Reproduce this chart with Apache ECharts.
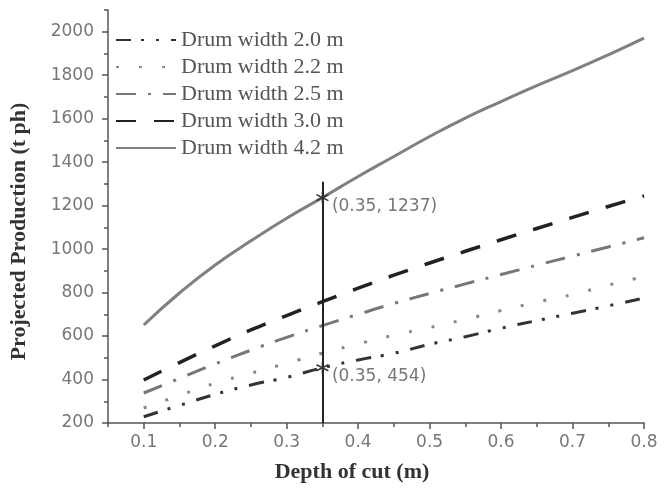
<!DOCTYPE html>
<html>
<head>
<meta charset="utf-8">
<script src="https://cdn.jsdelivr.net/npm/echarts@6/dist/echarts.min.js"></script>
<style>
  html, body { margin: 0; padding: 0; background: #fff; }
  #chart { width: 666px; height: 491px; }
</style>
</head>
<body>
<div id="chart"></div>
<script>
// depth of cut (m), sampled every 0.05
const depth = [0.1, 0.15, 0.2, 0.25, 0.3, 0.35, 0.4, 0.45, 0.5, 0.55, 0.6, 0.65, 0.7, 0.75, 0.8];

// projected production (t/h) per drum width
const width20 = [229, 281, 332, 375, 410, 454, 490, 521, 562, 597, 636, 671, 705, 739, 775];
const width22 = [269, 327, 383, 429, 475, 521, 564, 604, 639, 677, 717, 756, 791, 834, 874];
const width25 = [338, 405, 472, 535, 594, 648, 700, 750, 796, 840, 883, 926, 968, 1010, 1052];
const width30 = [398, 478, 555, 628, 694, 758, 820, 880, 936, 990, 1043, 1095, 1146, 1196, 1245];
const width42 = [651, 798, 927, 1038, 1142, 1237, 1334, 1426, 1518, 1603, 1679, 1752, 1821, 1894, 1971];

const seriesNames = ["Drum width 2.0 m", "Drum width 2.2 m", "Drum width 2.5 m", "Drum width 3.0 m", "Drum width 4.2 m"];

const xMajorTicks = [0.1, 0.2, 0.3, 0.4, 0.5, 0.6, 0.7, 0.8];
const xMinorTicks = [0.05, 0.15, 0.25, 0.35, 0.45, 0.55, 0.65, 0.75];
const yMajorTicks = [200, 400, 600, 800, 1000, 1200, 1400, 1600, 1800, 2000];
const yMinorTicks = [300, 500, 700, 900, 1100, 1300, 1500, 1700, 1900, 2100];

// marked operating point and the guide line through it
const markDepth = 0.35;
const markHigh = 1237;
const markLow = 454;
const guideTop = 1310;

const pairs = (vals) => depth.map((d, i) => [d, vals[i]]);

const STAR = "path://M0,-10L0,10M-8.7,-5L8.7,5M-8.7,5L8.7,-5";
const AXIS_COLOR = "#555";
const TICK_FONT = { color: "#777", fontSize: 17, fontFamily: "DejaVu Sans" };
const NAME_FONT = { color: "#333", fontSize: 22, fontWeight: "bold", fontFamily: "Liberation Serif" };

function starPoint(value) {
  return {
    coord: [markDepth, value],
    symbol: STAR,
    symbolSize: 12,
    itemStyle: { color: "none", borderColor: "#333", borderWidth: 1.5 },
    label: {
      show: true,
      position: "right",
      offset: [-4, 9],
      formatter: `(${markDepth}, ${value})`,
      color: "#777",
      fontSize: 17,
      fontFamily: "DejaVu Sans",
    },
  };
}

const chart = echarts.init(document.getElementById("chart"));

chart.setOption({
  animation: false,
  backgroundColor: "#fff",
  grid: { left: 105, right: 22, top: 10, bottom: 68 },
  legend: {
    data: seriesNames,
    orient: "vertical",
    left: 110,
    top: 24,
    itemWidth: 60,
    itemHeight: 14,
    itemGap: 5,
    itemStyle: { opacity: 0 },
    textStyle: { color: "#555", fontSize: 22, fontFamily: "Liberation Serif" },
  },
  xAxis: [
    {
      type: "value",
      min: 0.05,
      max: 0.8,
      name: "Depth of cut (m)",
      nameLocation: "middle",
      nameGap: 38,
      nameTextStyle: { ...NAME_FONT, padding: [0, 48, 0, 0] },
      axisLine: { lineStyle: { color: AXIS_COLOR, width: 1.5 } },
      axisTick: { customValues: xMajorTicks, length: 6, lineStyle: { color: AXIS_COLOR, width: 1.5 } },
      axisLabel: { customValues: xMajorTicks, margin: 11, ...TICK_FONT },
      splitLine: { show: false },
    },
    {
      type: "value",
      min: 0.05,
      max: 0.8,
      position: "bottom",
      axisLine: { show: false },
      axisTick: { customValues: xMinorTicks, length: 4, lineStyle: { color: AXIS_COLOR, width: 1.5 } },
      axisLabel: { show: false },
      splitLine: { show: false },
    },
  ],
  yAxis: [
    {
      type: "value",
      min: 200,
      max: 2100,
      name: "Projected Production (t ph)",
      nameLocation: "middle",
      nameGap: 78,
      nameTextStyle: { ...NAME_FONT, padding: [0, 30, 0, 0] },
      axisLine: { show: true, lineStyle: { color: AXIS_COLOR, width: 1.5 } },
      axisTick: { show: true, customValues: yMajorTicks, length: 6, lineStyle: { color: AXIS_COLOR, width: 1.5 } },
      axisLabel: { customValues: yMajorTicks, margin: 14, formatter: (v) => String(v), ...TICK_FONT },
      splitLine: { show: false },
    },
    {
      type: "value",
      min: 200,
      max: 2100,
      position: "left",
      axisLine: { show: false },
      axisTick: { show: true, customValues: yMinorTicks, length: 4, lineStyle: { color: AXIS_COLOR, width: 1.5 } },
      axisLabel: { show: false },
      splitLine: { show: false },
    },
  ],
  series: [
    {
      name: seriesNames[0],
      type: "line",
      data: pairs(width20),
      symbol: "none",
      smooth: true,
      lineStyle: { color: "#333", width: 3, type: [15, 10, 3, 12, 3, 12] },
      itemStyle: { color: "#333" },
      markPoint: { silent: true, data: [starPoint(markLow)] },
    },
    {
      name: seriesNames[1],
      type: "line",
      data: pairs(width22),
      symbol: "none",
      smooth: true,
      lineStyle: { color: "#888", width: 3, type: [3, 20] },
      itemStyle: { color: "#888" },
    },
    {
      name: seriesNames[2],
      type: "line",
      data: pairs(width25),
      symbol: "none",
      smooth: true,
      lineStyle: { color: "#777", width: 3, type: [20, 12, 3, 12] },
      itemStyle: { color: "#777" },
    },
    {
      name: seriesNames[3],
      type: "line",
      data: pairs(width30),
      symbol: "none",
      smooth: true,
      lineStyle: { color: "#222", width: 3.5, type: [20, 18] },
      itemStyle: { color: "#222" },
    },
    {
      name: seriesNames[4],
      type: "line",
      data: pairs(width42),
      symbol: "none",
      smooth: true,
      lineStyle: { color: "#808080", width: 3, type: "solid" },
      itemStyle: { color: "#808080" },
      markPoint: { silent: true, data: [starPoint(markHigh)] },
      markLine: {
        silent: true,
        symbol: ["none", "none"],
        label: { show: false },
        lineStyle: { color: "#222", width: 2, type: "solid" },
        data: [[{ coord: [markDepth, 200] }, { coord: [markDepth, guideTop] }]],
      },
    },
  ],
});
</script>
</body>
</html>
